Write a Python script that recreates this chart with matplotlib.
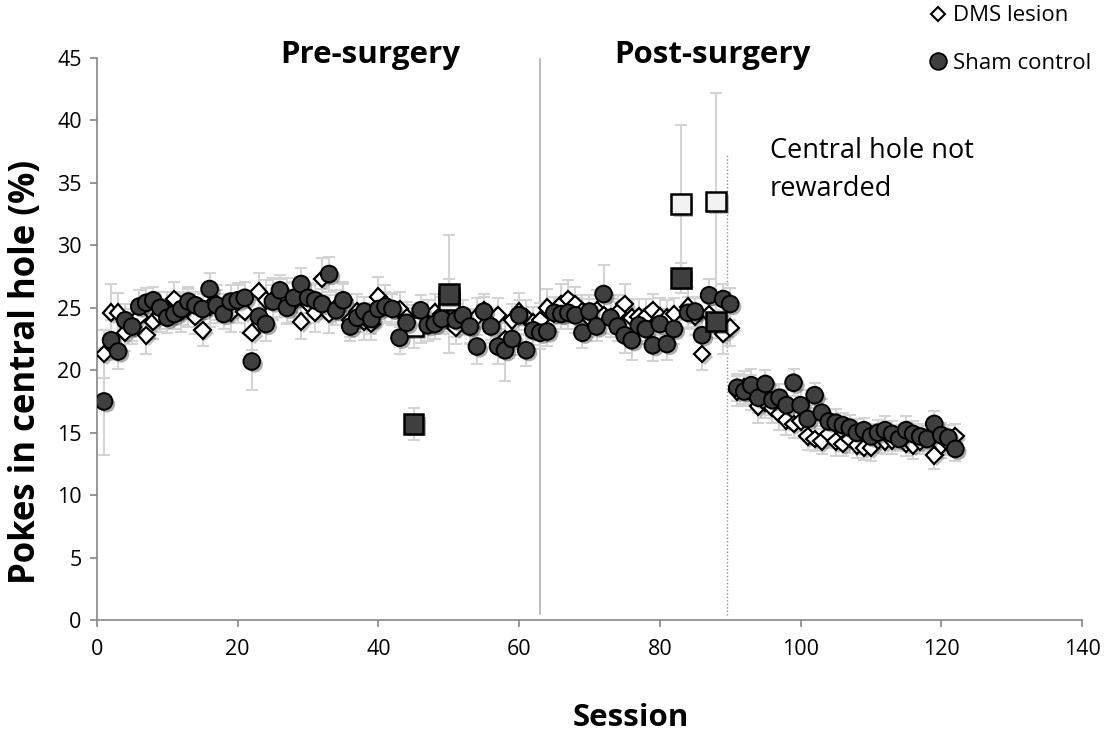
import matplotlib.pyplot as plt
import matplotlib.patheffects as pe
import numpy as np

# data
sessions = np.arange(1, 123)

dms = [21.3, 24.6, 24.6, 23.0, 23.5, 24.3, 22.8, 23.9, 24.4, 24.8,
       25.7, 24.7, 25.0, 24.3, 23.2, 25.1, 25.3, 24.7, 24.6, 25.4,
       24.7, 23.0, 26.3, 25.6, 25.7, 25.8, 25.6, 25.5, 23.9, 25.3,
       24.6, 27.3, 24.5, 25.0, 25.6, 24.0, 24.7, 23.9, 23.7, 25.9,
       25.3, 24.9, 24.9, 24.2, 23.5, 23.6, 24.3, 24.6, 24.5, 25.6,
       23.4, 24.2, 23.5, 24.3, 24.8, 23.7, 24.4, 22.5, 24.0, 24.7,
       24.2, 23.8, 24.0, 25.0, 24.5, 25.3, 25.7, 25.3, 24.7, 24.2,
       24.8, 24.4, 24.2, 24.6, 25.3, 24.2, 24.3, 24.3, 24.8, 24.3,
       24.2, 24.5, 33.3, 25.1, 24.3, 21.3, 24.5, 33.5, 22.9, 23.4,
       18.3, 18.6, 18.2, 17.1, 17.4, 17.0, 16.5, 16.0, 15.7, 15.9,
       14.7, 14.5, 14.3, 14.9, 14.3, 14.1, 14.5, 14.0, 13.8, 13.8,
       14.4, 14.3, 14.4, 14.6, 14.1, 14.0, 14.3, 14.5, 13.2, 14.0,
       14.2, 14.7]

dms_err = [1.9, 2.3, 1.6, 1.5, 1.4, 1.3, 1.5, 1.4, 1.3, 1.5,
           1.4, 1.6, 1.5, 1.4, 1.3, 1.6, 1.5, 1.4, 1.5, 1.6,
           1.6, 1.4, 1.5, 1.6, 1.7, 1.5, 1.8, 1.6, 1.4, 1.5,
           1.5, 1.7, 1.5, 1.4, 1.5, 1.3, 1.4, 1.5, 1.3, 1.6,
           1.5, 1.3, 1.4, 1.3, 1.7, 1.4, 1.3, 1.5, 1.4, 1.7,
           1.3, 1.4, 1.4, 1.5, 1.3, 1.3, 1.4, 1.5, 1.3, 1.5,
           1.4, 1.3, 1.4, 1.5, 1.4, 1.6, 1.5, 1.4, 1.3, 1.5,
           1.6, 1.4, 1.5, 1.4, 1.6, 1.5, 1.4, 1.4, 1.3, 1.5,
           1.4, 1.3, 6.3, 1.6, 1.5, 1.3, 1.4, 8.7, 1.6, 1.5,
           1.2, 1.3, 1.4, 1.3, 1.2, 1.2, 1.3, 1.2, 1.1, 1.3,
           1.1, 1.0, 1.0, 1.1, 1.2, 1.0, 1.1, 1.0, 1.0, 1.1,
           1.0, 1.0, 1.1, 1.0, 1.0, 1.1, 1.0, 1.0, 1.1, 1.0,
           1.0, 1.0]

sham = [17.5, 22.4, 21.5, 24.0, 23.5, 25.1, 25.4, 25.6, 25.0, 24.2,
        24.5, 24.9, 25.5, 25.2, 24.9, 26.5, 25.2, 24.5, 25.5, 25.6,
        25.8, 20.7, 24.3, 23.7, 25.5, 26.4, 25.0, 25.8, 26.9, 25.8,
        25.6, 25.3, 27.7, 24.8, 25.6, 23.5, 24.2, 24.7, 24.1, 24.9,
        25.1, 24.9, 22.6, 23.8, 15.7, 24.8, 23.6, 23.7, 24.1, 26.1,
        24.0, 24.4, 23.5, 21.9, 24.7, 23.5, 21.9, 21.6, 22.5, 24.4,
        21.6, 23.2, 23.0, 23.1, 24.6, 24.5, 24.6, 24.4, 23.0, 24.7,
        23.5, 26.1, 24.2, 23.5, 22.8, 22.4, 23.6, 23.3, 22.0, 23.7,
        22.1, 23.3, 27.4, 24.6, 24.7, 22.8, 26.0, 23.9, 25.7, 25.3,
        18.6, 18.3, 18.8, 17.8, 18.9, 17.6, 17.8, 17.2, 19.0, 17.2,
        16.1, 18.0, 16.6, 15.9, 15.8, 15.6, 15.4, 15.0, 15.2, 14.7,
        15.0, 15.2, 14.9, 14.5, 15.2, 14.9, 14.7, 14.5, 15.7, 14.8,
        14.6, 13.7]

sham_err = [4.3, 1.6, 1.4, 1.3, 1.2, 1.3, 1.2, 1.1, 1.3, 1.2,
            1.2, 1.3, 1.2, 1.1, 1.2, 1.3, 1.2, 1.2, 1.3, 1.2,
            1.3, 2.3, 1.3, 1.4, 1.3, 1.2, 1.3, 1.2, 1.3, 1.2,
            1.3, 1.2, 1.4, 1.2, 1.3, 1.2, 1.1, 1.2, 1.2, 1.3,
            1.2, 1.2, 1.3, 1.2, 1.3, 1.2, 1.3, 1.2, 1.2, 4.7,
            1.3, 1.2, 1.3, 1.4, 1.2, 1.3, 1.4, 2.5, 1.3, 1.2,
            1.3, 1.2, 1.3, 1.2, 1.3, 1.2, 1.3, 1.4, 1.2, 1.3,
            1.2, 2.3, 1.3, 1.2, 1.4, 1.6, 1.3, 1.2, 1.3, 1.2,
            1.3, 1.2, 1.2, 1.3, 1.2, 1.4, 1.3, 1.3, 1.2, 1.3,
            1.1, 1.2, 1.3, 1.2, 1.1, 1.2, 1.1, 1.2, 1.1, 1.2,
            1.1, 1.0, 1.1, 1.0, 1.1, 1.0, 1.0, 1.1, 1.0, 1.0,
            1.0, 1.1, 1.0, 1.0, 1.1, 1.0, 1.0, 1.0, 1.0, 1.0,
            1.0, 1.0]

# sessions drawn as squares
test_sessions = [45, 50, 83, 88]

dms = np.array(dms)
sham = np.array(sham)
sq = np.isin(sessions, test_sessions)

font = 'Open Sans'

fig = plt.figure(figsize=(11.06, 7.31), dpi=100)
ax = fig.add_axes([0.0877, 0.1518, 0.8906, 0.7689])

shadow = [pe.SimplePatchShadow(offset=(2, -2), alpha=0.35), pe.Normal()]
errgrey = '#d4d4d4'

ax.errorbar(sessions, dms, yerr=dms_err, fmt='none', ecolor=errgrey,
            elinewidth=1.5, capsize=4, capthick=1.5, zorder=1)
ax.errorbar(sessions, sham, yerr=sham_err, fmt='none', ecolor=errgrey,
            elinewidth=1.5, capsize=4, capthick=1.5, zorder=1)

ax.plot(sessions[~sq], dms[~sq], 'D', ms=8.5, mfc='white', mec='black',
        mew=1.6, zorder=3, path_effects=shadow)
ax.plot(sessions[sq], dms[sq], 's', ms=14, mfc='#f2f2f2', mec='black',
        mew=1.8, zorder=3, path_effects=shadow)
ax.plot(sessions[~sq], sham[~sq], 'o', ms=12, mfc='#3f3f3f', mec='black',
        mew=1.4, zorder=4, path_effects=shadow)
ax.plot(sessions[sq], sham[sq], 's', ms=14, mfc='#3f3f3f', mec='black',
        mew=1.8, zorder=4, path_effects=shadow)

# surgery and reward-change markers
ax.plot([63, 63], [0.5, 45], color='#b0b0b0', lw=1.2, zorder=0)
ax.plot([89.5, 89.5], [0.4, 37.2], color='#909090', lw=1.0, ls=(0, (1, 1.5)), zorder=0)

ax.set_xlim(0, 140)
ax.set_ylim(0, 45)
ax.set_xticks(range(0, 141, 20))
ax.set_yticks(range(0, 46, 5))
for s in ['top', 'right']:
    ax.spines[s].set_visible(False)
for s in ['left', 'bottom']:
    ax.spines[s].set_color('#868686')
    ax.spines[s].set_linewidth(1.2)
ax.tick_params(colors='#868686', labelcolor='black', labelsize=15.5, length=5, width=1.2)
ax.tick_params(axis='x', pad=9)
ax.tick_params(axis='y', pad=6)

for lbl in ax.get_xticklabels() + ax.get_yticklabels():
    lbl.set_fontfamily(font)

ax.set_ylabel('Pokes in central hole (%)', fontsize=25, fontweight='bold', family=font)
ax.yaxis.set_label_coords(-0.054, 0.441)
ax.set_xlabel('Session', fontsize=22.5, fontweight='bold', family=font, va='center')
ax.xaxis.set_label_coords(0.542, -0.174)

ax.text(38.8, 45.2, 'Pre-surgery', fontsize=22.5, fontweight='bold', family=font,
        ha='center', va='center')
ax.text(87.5, 45.2, 'Post-surgery', fontsize=22.5, fontweight='bold', family=font,
        ha='center', va='center')
ax.text(95.6, 38.7, 'Central hole not\nrewarded', fontsize=19.5, family=font,
        ha='left', va='top', linespacing=1.5)

# legend in the top-right corner
h1, = ax.plot([], [], 'D', ms=7, mfc='white', mec='black', mew=1.5)
h2, = ax.plot([], [], 'o', ms=12, mfc='#3f3f3f', mec='black', mew=1.3)
fig.legend([h1, h2], ['DMS lesion', 'Sham control'], loc='upper right',
           bbox_to_anchor=(1.005, 1.02), frameon=False, handlelength=0.8,
           handletextpad=0.3, labelspacing=1.2, prop={'family': font, 'size': 16})

fig.savefig('out.png', dpi=100)
